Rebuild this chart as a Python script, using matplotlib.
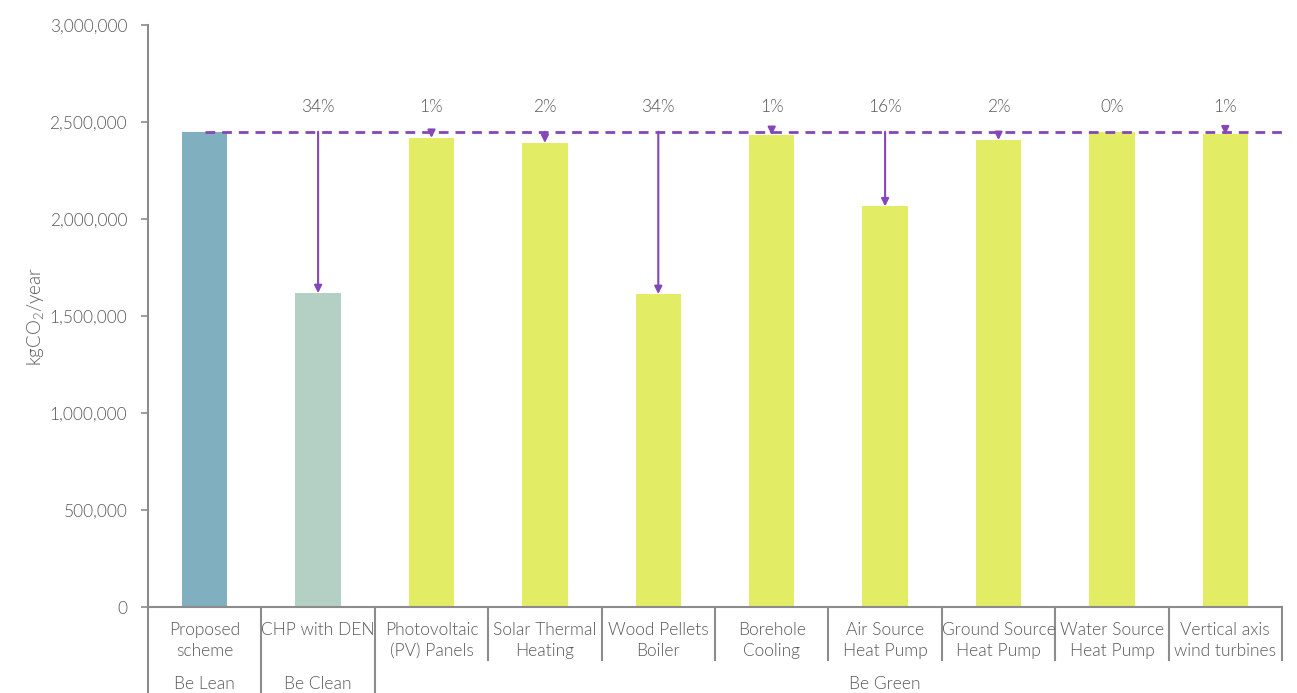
import matplotlib
matplotlib.use("Agg")
import matplotlib.pyplot as plt
from matplotlib.ticker import FuncFormatter

plt.rcParams['font.family'] = ['Lato', 'DejaVu Sans']
plt.rcParams['font.weight'] = 300
plt.rcParams['mathtext.default'] = 'regular'

# Data
categories = ["Proposed\nscheme", "CHP with DEN", "Photovoltaic\n(PV) Panels",
              "Solar Thermal\nHeating", "Wood Pellets\nBoiler", "Borehole\nCooling",
              "Air Source\nHeat Pump", "Ground Source\nHeat Pump",
              "Water Source\nHeat Pump", "Vertical axis\nwind turbines"]
emissions = [2450000, 1618000, 2418000, 2392000, 1613000, 2433000,
             2065000, 2407000, 2448000, 2436000]
groups = ["Be Lean", "Be Clean", "Be Green"]
group_sizes = [1, 1, 8]
yticks = [0, 500000, 1000000, 1500000, 2000000, 2500000, 3000000]

colors = ["#80AFC0", "#B4D0C4"] + ["#E2EC64"] * 8
purple = "#8446B8"
text_col = "#595959"
axis_col = "#8C8C8C"
fs = 12.5

fig = plt.figure(figsize=(12.97, 6.93), dpi=100)
ax = fig.add_axes([148 / 1297, 1 - 607 / 693, (1282 - 148) / 1297, 582 / 693])

x = list(range(len(categories)))
ax.bar(x, emissions, width=0.4, color=colors, zorder=2)

ax.set_xlim(-0.5, len(categories) - 0.5)
ax.set_ylim(0, 3000000)
ax.set_yticks(yticks)
ax.yaxis.set_major_formatter(FuncFormatter(lambda v, p: f"{int(v):,}"))
ax.tick_params(axis='y', color=axis_col, labelcolor=text_col, labelsize=fs,
               length=5, width=1.2, direction='out', pad=10)
for lbl in ax.get_yticklabels():
    lbl.set_fontweight(300)
ax.set_xticks([])
for s in ['top', 'right']:
    ax.spines[s].set_visible(False)
for s in ['left', 'bottom']:
    ax.spines[s].set_color(axis_col)
    ax.spines[s].set_linewidth(1.5)

ax.set_ylabel(r"kgCO$_2$/year", color=text_col, fontsize=13.5, fontweight=300)
ax.yaxis.set_label_coords(-0.09, 0.5)

# Baseline dashed line from the proposed scheme
base = emissions[0]
ax.plot([0, len(categories) - 0.5], [base, base], color=purple, lw=2,
        ls=(0, (3.5, 2.5)), zorder=3, clip_on=False)

# Reduction arrows and percentage labels
label_y = base + 125000
for i in range(1, len(categories)):
    v = emissions[i]
    pct = round((base - v) / base * 100)
    if pct > 0:
        ax.annotate("", xy=(i, v), xytext=(i, base),
                    arrowprops=dict(arrowstyle='-|>', color=purple, lw=1.5,
                                    mutation_scale=11, shrinkA=0, shrinkB=0),
                    zorder=4)
    ax.text(i, label_y, f"{pct}%", ha='center', va='center',
            color=text_col, fontsize=fs, fontweight=300)

# Multi-level category axis
tr = ax.get_xaxis_transform()
for i, lab in enumerate(categories):
    ax.text(i, -0.025, lab, transform=tr, ha='center', va='top',
            color=text_col, fontsize=fs, linespacing=1.4, fontweight=300)

short = -53 / 582
long_ = -86 / 582
bounds = [0]
for g in group_sizes:
    bounds.append(bounds[-1] + g)
for b in range(len(categories) + 1):
    y_end = long_ if b in bounds[:-1] else short
    ax.plot([b - 0.5, b - 0.5], [0, y_end], transform=tr, color=axis_col,
            lw=1.5, clip_on=False)

group_x = [0, 1, 6]
for gx, g in zip(group_x, groups):
    ax.text(gx, -0.132, g, transform=tr, ha='center', va='center',
            color=text_col, fontsize=fs, fontweight=300)

fig.savefig("out.png", dpi=100, facecolor='white')
